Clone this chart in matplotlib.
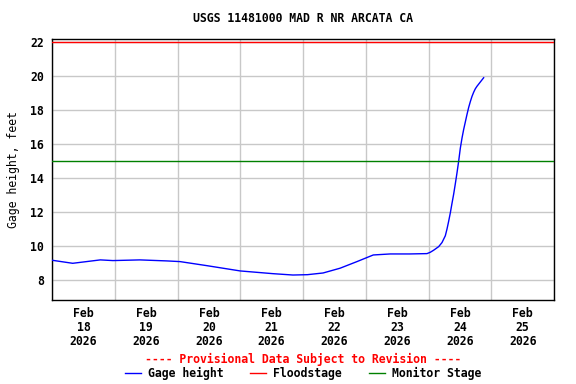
import datetime
import matplotlib
matplotlib.use("Agg")
import matplotlib.pyplot as plt
import matplotlib.dates as mdates
from matplotlib.lines import Line2D

# gage height readings: days after Feb 18 2026 00:00, feet
days = [0.0, 0.33, 0.77, 0.97, 1.4, 1.83, 2.04, 2.47, 3.0, 3.52, 3.84, 4.07,
        4.32, 4.59, 4.86, 5.12, 5.39, 5.7, 5.976, 6.029, 6.082, 6.162, 6.215,
        6.268, 6.295, 6.321, 6.348, 6.374, 6.401, 6.427, 6.454, 6.481, 6.507,
        6.534, 6.560, 6.587, 6.614, 6.640, 6.667, 6.693, 6.720, 6.746, 6.773,
        6.826, 6.879]
gage = [9.16, 8.98, 9.18, 9.14, 9.18, 9.12, 9.08, 8.84, 8.53, 8.37, 8.29, 8.31,
        8.41, 8.69, 9.08, 9.47, 9.53, 9.53, 9.55, 9.63, 9.75, 9.96, 10.2,
        10.6, 11.0, 11.45, 11.95, 12.5, 13.05, 13.65, 14.3, 15.0, 15.75,
        16.35, 16.85, 17.3, 17.75, 18.15, 18.5, 18.8, 19.05, 19.25, 19.4,
        19.65, 19.9]
flood_stage = 22.0
monitor_stage = 15.0
title = "USGS 11481000 MAD R NR ARCATA CA"

start = datetime.datetime(2026, 2, 18)
times = [start + datetime.timedelta(days=d) for d in days]

plt.rcParams["font.family"] = "DejaVu Sans Mono"
plt.rcParams["font.weight"] = "bold"
plt.rcParams["font.size"] = 8.3

fig = plt.figure(figsize=(5.76, 3.84), dpi=100)
ax = fig.add_axes([52 / 576, 1 - 300 / 384, 502 / 576, 261 / 384])
xc = 303 / 576  # texts are centred on the plot area

ax.plot(times, gage, color="blue", lw=1, zorder=3)
ax.axhline(flood_stage, color="red", lw=1, zorder=3)
ax.axhline(monitor_stage, color="green", lw=1, zorder=3)

ax.set_xlim(start, start + datetime.timedelta(days=8))
ax.set_ylim(6.82, 22.18)
ax.set_yticks([8, 10, 12, 14, 16, 18, 20, 22])

ax.xaxis.set_major_locator(mdates.DayLocator())
ax.xaxis.set_major_formatter(plt.NullFormatter())
noon = [start + datetime.timedelta(days=i, hours=12) for i in range(8)]
ax.set_xticks(noon, minor=True)
ax.set_xticklabels([t.strftime("%b\n%d\n%Y") for t in noon], minor=True,
                   linespacing=1.08)
ax.tick_params(axis="both", which="both", length=0, pad=6)
ax.tick_params(axis="x", which="minor", pad=5)

ax.grid(True, which="major", color="#c8c8c8", lw=1)
ax.set_axisbelow(True)
for s in ax.spines.values():
    s.set_color("black")
    s.set_linewidth(1)

ax.set_ylabel("Gage height, feet", labelpad=7)
fig.text(xc, 1 - 19 / 384, title, ha="center", va="center")
fig.text(xc, 1 - 359 / 384, "---- Provisional Data Subject to Revision ----",
         ha="center", va="center", color="red")

handles = [Line2D([], [], color="blue", lw=1),
           Line2D([], [], color="red", lw=1),
           Line2D([], [], color="green", lw=1)]
fig.legend(handles, ["Gage height", "Floodstage", "Monitor Stage"],
           loc="center", bbox_to_anchor=(xc, 1 - 373 / 384), ncol=3,
           frameon=False, handlelength=1.4, handletextpad=0.6,
           columnspacing=2.3, borderpad=0, borderaxespad=0)

fig.savefig("out.png", dpi=100)
